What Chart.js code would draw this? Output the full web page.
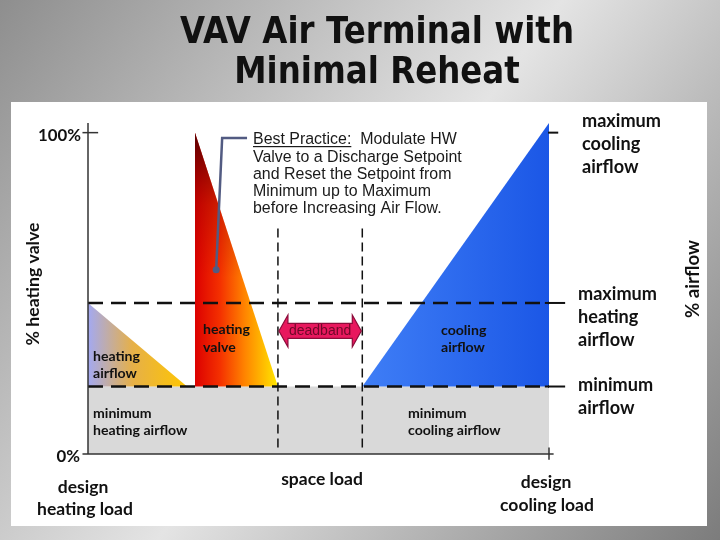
<!DOCTYPE html>
<html>
<head>
    <title>VAV Air Terminal with Minimal Reheat</title>
    <script src="https://cdn.jsdelivr.net/npm/chart.js"></script>
    <style>
        html, body { margin: 0; padding: 0; background: #ffffff; }
        canvas { display: block; }
    </style>
</head>
<body>
<canvas id="vav-chart" width="720" height="540"></canvas>
<script>
    // x = space load, 0 = design heating load, 100 = design cooling load
    // y = % heating valve / % airflow
    var loadRange = [0, 100];
    var pctRange = [0, 103];

    var airflowLevels = [21, 47];          // minimum airflow, maximum heating airflow
    var yTickValues = [0, 100];
    var yTickLabels = ['0%', '100%'];
    var rightTickValues = [100, 47, 21];

    var heatAirflowX = [0, 21.5];
    var heatAirflowY = [47, 21];
    var heatValveX = [23.2, 41.2];
    var heatValveY = [100, 21];
    var coolAirflowX = [59.5, 100];
    var coolAirflowY = [21, 103];
    var deadbandX = [41.2, 59.5];
    var deadbandY = [38.3, 38.3];
    var calloutX = [34.5, 29.1, 27.8];
    var calloutY = [98.3, 98.3, 57.3];

    var titleLines = ['VAV Air Terminal with', 'Minimal Reheat'];
    var loadLabels = [['design', 'heating load'], ['space load'], ['design', 'cooling load']];
    var rightLabels = [['maximum', 'cooling', 'airflow'], ['maximum', 'heating', 'airflow'], ['minimum', 'airflow']];
    var noteLines = ['Valve to a Discharge Setpoint', 'and Reset the Setpoint from',
                     'Minimum up to Maximum', 'before Increasing Air Flow.'];

    function pts(xs, ys) {
        var out = [];
        for (var i = 0; i < xs.length; i++) out.push({x: xs[i], y: ys[i]});
        return out;
    }

    function hGrad(x0, x1, stops) {
        return function (ctx) {
            var chart = ctx.chart;
            if (!chart.chartArea) return null;
            var sx = chart.scales.x;
            var g = chart.ctx.createLinearGradient(sx.getPixelForValue(x0), 0, sx.getPixelForValue(x1), 0);
            stops.forEach(function (s) { g.addColorStop(s[0], s[1]); });
            return g;
        };
    }

    function vGrad(y0, y1, stops) {
        return function (ctx) {
            var chart = ctx.chart;
            if (!chart.chartArea) return null;
            var sy = chart.scales.y;
            var g = chart.ctx.createLinearGradient(0, sy.getPixelForValue(y0), 0, sy.getPixelForValue(y1));
            stops.forEach(function (s) { g.addColorStop(s[0], s[1]); });
            return g;
        };
    }

    function shape(data, fillTo, bg, order) {
        return {data: data, showLine: true, borderWidth: 0, borderColor: 'transparent',
                pointRadius: 0, fill: {value: fillTo}, backgroundColor: bg, order: order};
    }

    function line(data, color, width, dash, order) {
        return {data: data, showLine: true, borderColor: color, borderWidth: width, borderDash: dash || [],
                pointRadius: 0, fill: false, clip: false, order: order};
    }

    var datasets = [];
    // grey band below minimum airflow
    datasets.push(shape(pts(loadRange, [airflowLevels[0], airflowLevels[0]]), 0, '#d9d9d9', 20));
    datasets.push(shape(pts(heatAirflowX, heatAirflowY), airflowLevels[0],
        hGrad(heatAirflowX[0], heatAirflowX[1], [[0, '#a3a9f2'], [0.45, '#e6b048'], [1, '#ffc600']]), 15));
    datasets.push(shape(pts(heatValveX, heatValveY), airflowLevels[0],
        hGrad(heatValveX[0], heatValveX[1], [[0, '#dc0000'], [0.3, '#f43000'], [0.6, '#ff8400'], [1, '#ffe800']]), 15));
    // darker top of the valve wedge
    datasets.push(shape(pts(heatValveX, heatValveY), airflowLevels[0],
        vGrad(100, 55, [[0, 'rgba(80,0,0,0.95)'], [0.5, 'rgba(140,0,0,0.35)'], [1, 'rgba(160,0,0,0)']]), 14));
    datasets.push(shape(pts(coolAirflowX, coolAirflowY), airflowLevels[0],
        hGrad(coolAirflowX[0], coolAirflowX[1], [[0, '#3f7ef6'], [1, '#1b57e6']]), 15));

    // airflow levels
    airflowLevels.forEach(function (v) {
        datasets.push(line(pts(loadRange, [v, v]), '#111111', 2.6, [15, 8], 6));
    });
    // deadband limits
    deadbandX.forEach(function (v) {
        datasets.push(line(pts([v, v], [2, 71.5]), '#111111', 1.5, [9, 5], 6));
    });
    // axes
    datasets.push(line(pts([0, 0], [0, 103]), '#333333', 1.5, null, 4));
    datasets.push(line(pts([0, 101], [0, 0]), '#333333', 1.5, null, 4));
    datasets.push(line(pts([100, 100], [-1.8, 2]), '#333333', 1.5, null, 4));
    yTickValues.forEach(function (v) {
        datasets.push(line(pts([-1.2, v ? 2.2 : 0], [v, v]), '#333333', 1.5, null, 4));
    });
    rightTickValues.forEach(function (v) {
        datasets.push(line(pts(v === 100 ? [99.8, 102] : [99.1, 103.5], [v, v]), '#111111', 2, null, 4));
    });
    // callout leader
    var callout = line(pts(calloutX, calloutY), '#525b82', 2.5, null, 1);
    callout.pointRadius = [0, 0, 3.5];
    callout.pointBackgroundColor = '#525b82';
    callout.pointBorderWidth = 0;
    datasets.push(callout);

    function fitFont(c, text, weight, family, width) {
        c.font = weight + ' 100px ' + family;
        return weight + ' ' + (100 * width / c.measureText(text).width).toFixed(2) + 'px ' + family;
    }

    var backgroundPlugin = {
        id: 'background',
        beforeDraw: function (chart) {
            var c = chart.ctx;
            c.save();
            var g = c.createLinearGradient(0, 0, 720, 540);
            g.addColorStop(0, '#8e8e8e');
            g.addColorStop(0.5, '#e4e4e4');
            g.addColorStop(1, '#7c7c7c');
            c.fillStyle = g;
            c.fillRect(0, 0, 720, 540);
            c.fillStyle = '#ffffff';
            c.fillRect(11, 102, 696, 424);
            c.restore();
        }
    };

    var deadbandPlugin = {
        id: 'deadband',
        afterDatasetsDraw: function (chart) {
            var c = chart.ctx;
            var x0 = chart.scales.x.getPixelForValue(deadbandX[0]);
            var x1 = chart.scales.x.getPixelForValue(deadbandX[1]);
            var y = chart.scales.y.getPixelForValue(deadbandY[0]);
            var head = 10, hh = 16, bh = 7.5;
            c.save();
            c.beginPath();
            c.moveTo(x0 + 1, y);
            c.lineTo(x0 + head, y - hh);
            c.lineTo(x0 + head, y - bh);
            c.lineTo(x1 - head, y - bh);
            c.lineTo(x1 - head, y - hh);
            c.lineTo(x1 - 1, y);
            c.lineTo(x1 - head, y + hh);
            c.lineTo(x1 - head, y + bh);
            c.lineTo(x0 + head, y + bh);
            c.lineTo(x0 + head, y + hh);
            c.closePath();
            c.fillStyle = '#e8185e';
            c.fill();
            c.strokeStyle = '#8c0c3a';
            c.lineWidth = 1.2;
            c.stroke();
            c.font = '14px "Liberation Sans", Arial, sans-serif';
            c.textAlign = 'center';
            c.textBaseline = 'alphabetic';
            c.fillStyle = '#6e0828';
            c.fillText('deadband', (x0 + x1) / 2, y + 4);
            c.restore();
        }
    };

    var labelPlugin = {
        id: 'labels',
        afterDraw: function (chart) {
            var c = chart.ctx;
            var lato = 'Lato, "Open Sans", sans-serif';
            c.save();
            c.fillStyle = '#111111';
            c.textBaseline = 'alphabetic';

            // title, squeezed to the width of the original
            c.font = 'bold 38px "DejaVu Sans", sans-serif';
            var sxTitle = 394 / c.measureText(titleLines[0]).width;
            c.textAlign = 'center';
            [43, 83].forEach(function (y, i) {
                c.save();
                c.translate(377, y);
                c.scale(sxTitle, 1);
                c.fillText(titleLines[i], 0, 0);
                c.restore();
            });

            // y tick labels
            c.font = fitFont(c, '100%', 'bold', lato, 43);
            c.textAlign = 'right';
            c.fillText(yTickLabels[1], 81, 141);
            c.fillText(yTickLabels[0], 80, 462);

            // axis titles
            c.save();
            c.translate(33, 284);
            c.rotate(-Math.PI / 2);
            c.textAlign = 'center';
            c.textBaseline = 'middle';
            c.font = fitFont(c, '% heating valve', 'bold', lato, 123);
            c.fillText('% heating valve', 0, 0);
            c.restore();
            c.save();
            c.translate(693, 279);
            c.rotate(-Math.PI / 2);
            c.textAlign = 'center';
            c.textBaseline = 'middle';
            c.font = fitFont(c, '% airflow', 'bold', lato, 78);
            c.fillText('% airflow', 0, 0);
            c.restore();

            // load labels under the x axis
            c.textAlign = 'center';
            c.font = fitFont(c, 'heating load', 'bold', lato, 96);
            c.fillText(loadLabels[0][0], 83, 493);
            c.fillText(loadLabels[0][1], 85, 515);
            c.fillText(loadLabels[1][0], 322, 485);
            c.fillText(loadLabels[2][0], 546, 488);
            c.fillText(loadLabels[2][1], 547, 511);

            // airflow level labels at the right
            c.textAlign = 'left';
            c.font = fitFont(c, 'maximum', 'bold', lato, 79);
            [[582, 127], [578, 300], [578, 391]].forEach(function (p, i) {
                rightLabels[i].forEach(function (t, j) {
                    c.fillText(t, p[0], p[1] + j * 23);
                });
            });

            // labels inside the plot
            c.font = fitFont(c, 'heating', 'bold', lato, 47);
            c.fillText('heating', 93, 361);
            c.fillText('airflow', 93, 378);
            c.fillText('heating', 203, 334);
            c.fillText('valve', 203, 352);
            c.fillText('cooling', 441, 335);
            c.fillText('airflow', 441, 352);
            c.fillText('minimum', 93, 418);
            c.fillText('heating airflow', 93, 435);
            c.fillText('minimum', 408, 418);
            c.fillText('cooling airflow', 408, 435);

            // best practice note
            c.fillStyle = '#1a1a1a';
            c.font = fitFont(c, noteLines[0], 'normal', '"Liberation Sans", Arial, sans-serif', 209);
            var head = 'Best Practice:';
            c.fillText(head, 253, 144);
            var hw = c.measureText(head).width;
            c.fillText('  Modulate HW', 253 + hw, 144);
            c.fillRect(253, 146, hw, 1.2);
            noteLines.forEach(function (t, i) {
                c.fillText(t, 253, 161.5 + i * 17.3);
            });
            c.restore();
        }
    };

    new Chart(document.getElementById('vav-chart'), {
        type: 'scatter',
        data: {datasets: datasets},
        options: {
            responsive: false,
            animation: false,
            events: [],
            layout: {padding: {left: 88, top: 123, right: 171, bottom: 86}},
            scales: {
                x: {type: 'linear', min: loadRange[0], max: loadRange[1], display: false},
                y: {type: 'linear', min: pctRange[0], max: pctRange[1], display: false}
            },
            plugins: {legend: {display: false}, tooltip: {enabled: false}, title: {display: false}}
        },
        plugins: [backgroundPlugin, deadbandPlugin, labelPlugin]
    });
</script>
</body>
</html>
